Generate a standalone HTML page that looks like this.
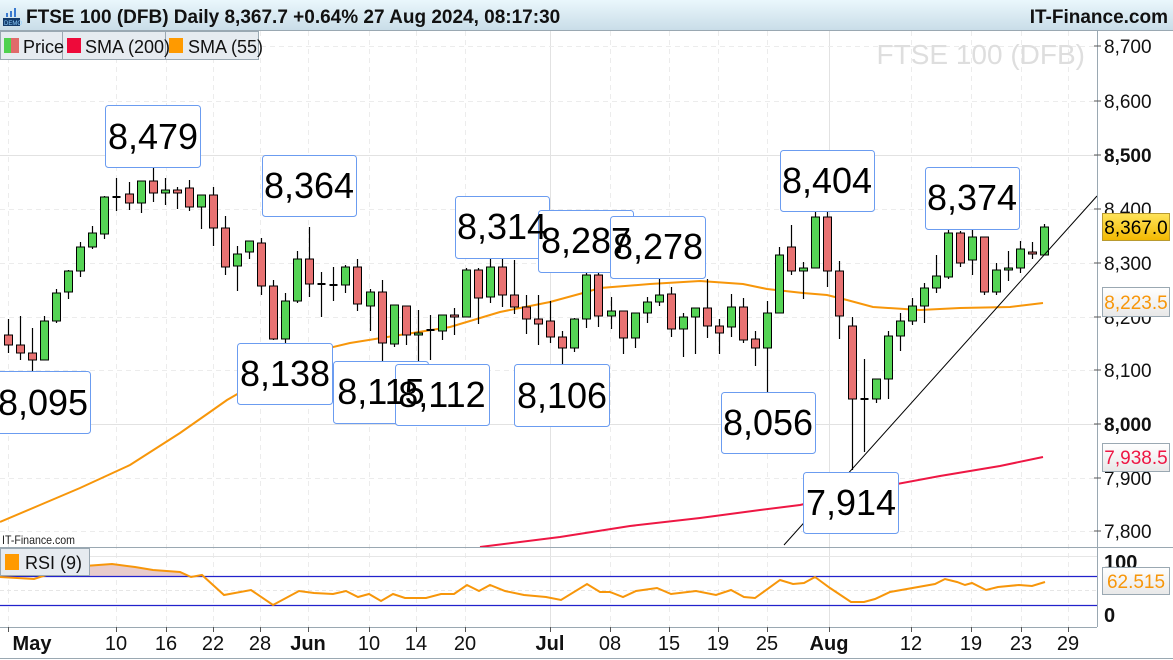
<!DOCTYPE html>
<html><head><meta charset="utf-8"><style>
body{margin:0;background:#fff;width:1173px;height:660px;overflow:hidden;font-family:"Liberation Sans",Arial,sans-serif}
svg{display:block}
</style></head><body>
<svg id="s" width="1173" height="660" xmlns="http://www.w3.org/2000/svg" font-family="Liberation Sans, Arial, sans-serif">
<defs><linearGradient id="hg" x1="0" y1="0" x2="0" y2="1"><stop offset="0" stop-color="#eaf7fc"/><stop offset="1" stop-color="#c9dde8"/></linearGradient>
<linearGradient id="yg" x1="0" y1="0" x2="0" y2="1"><stop offset="0" stop-color="#ffe45a"/><stop offset="1" stop-color="#f2b800"/></linearGradient>
<linearGradient id="wg" x1="0" y1="0" x2="0" y2="1"><stop offset="0" stop-color="#ffffff"/><stop offset="1" stop-color="#e8e8e8"/></linearGradient></defs>
<g id="grid"></g>
<text x="1085" y="64" text-anchor="end" font-size="28" fill="#dedede">FTSE 100 (DFB)</text>
<!-- SMA 55 -->
<polyline fill="none" stroke="#f7960a" stroke-width="2" points="0,522 40,505 80,488 130,465 180,433 210,412 227,400 253,385 290,373 333,347 350,343 400,335 450,327 500,312 550,302 583,293 600,288 650,284 700,281 743,284 767,289 803,293 827,295 847,300 873,307 920,310 960,308 1010,307 1043,303"/>
<!-- SMA 200 -->
<polyline fill="none" stroke="#ee1744" stroke-width="2" points="480,547 560,537 630,526 700,518 760,510 800,505 870,489 940,476 1000,466 1043,457"/>
<g id="candles"></g>
<line x1="784" y1="545" x2="1097" y2="196" stroke="#000" stroke-width="1"/>
<g font-size="36" text-anchor="middle" fill="#000" stroke="none">
<g fill="#fff" stroke="#6b9cf0" stroke-width="1">
<rect x="105.5" y="105.5" width="95" height="62" rx="3"/>
<rect x="262.5" y="155.5" width="94" height="61" rx="3"/>
<rect x="-5.5" y="371.5" width="96" height="62" rx="3"/>
<rect x="237.5" y="343.5" width="95" height="61" rx="3"/>
<rect x="333.5" y="361.5" width="95" height="62" rx="3"/>
<rect x="395.5" y="364.5" width="94" height="61" rx="3"/>
<rect x="514.5" y="364.5" width="95" height="62" rx="3"/>
<rect x="455.5" y="196.5" width="94" height="62" rx="3"/>
<rect x="538.5" y="210.5" width="95" height="62" rx="3"/>
<rect x="610.5" y="216.5" width="95" height="62" rx="3"/>
<rect x="780.5" y="150.5" width="94" height="61" rx="3"/>
<rect x="925.5" y="167.5" width="94" height="62" rx="3"/>
<rect x="721.5" y="392.5" width="94" height="61" rx="3"/>
<rect x="803.5" y="472.5" width="95" height="61" rx="3"/>
</g>
<text x="153" y="149">8,479</text>
<text x="309" y="198">8,364</text>
<text x="43" y="415">8,095</text>
<text x="285" y="386">8,138</text>
<text x="381" y="404">8,115</text>
<text x="442" y="407">8,112</text>
<text x="562" y="408">8,106</text>
<text x="502" y="239">8,314</text>
<text x="586" y="253">8,287</text>
<text x="658" y="259">8,278</text>
<text x="827" y="193">8,404</text>
<text x="972" y="210">8,374</text>
<text x="768" y="435">8,056</text>
<text x="851" y="515">7,914</text>
</g>
<!-- header -->
<rect x="0" y="0" width="1173" height="30" fill="url(#hg)"/>
<line x1="0" y1="30.5" x2="1173" y2="30.5" stroke="#9aa8b2"/>
<g transform="translate(3,10)"><rect x="0" y="8" width="17" height="8" fill="#123a6a"/><text x="1" y="15" font-size="6" fill="#8fd0ff">DEMO</text><rect x="3" y="3" width="2" height="4" fill="#3b7bd0"/><rect x="7" y="1" width="2" height="6" fill="#3b7bd0"/><rect x="11" y="-2" width="2" height="9" fill="#3b7bd0"/></g>
<text x="26" y="23" font-size="19" font-weight="bold" fill="#111">FTSE 100 (DFB) Daily 8,367.7 +0.64% 27 Aug 2024, 08:17:30</text>
<text x="1168" y="23" font-size="19" font-weight="bold" fill="#111" text-anchor="end">IT-Finance.com</text>
<!-- legend -->
<g font-size="18" fill="#111">
<rect x="0.5" y="31.5" width="258" height="28" fill="#e6ebf0" stroke="#9aa8b2"/>
<line x1="62.5" y1="31" x2="62.5" y2="59" stroke="#9aa8b2"/><line x1="165.5" y1="31" x2="165.5" y2="59" stroke="#9aa8b2"/>
<rect x="4" y="38" width="7" height="15" fill="#4fd14f"/><rect x="11" y="38" width="8" height="15" fill="#e06a6a"/>
<text x="23" y="53">Price</text>
<rect x="67" y="38" width="14" height="15" fill="#ee0a3a"/><text x="85" y="53">SMA (200)</text>
<rect x="169" y="38" width="14" height="15" fill="#ff9a00"/><text x="188" y="53">SMA (55)</text>
</g>
<!-- right axis -->
<line x1="1097.5" y1="31" x2="1097.5" y2="627" stroke="#9aa8b2"/>
<g font-size="19" fill="#111">
<text x="1104" y="53">8,700</text>
<text x="1104" y="108">8,600</text>
<text x="1104" y="162" font-weight="bold">8,500</text>
<text x="1104" y="216">8,400</text>
<text x="1104" y="270">8,300</text>
<text x="1104" y="324">8,200</text>
<text x="1104" y="377">8,100</text>
<text x="1104" y="431" font-weight="bold">8,000</text>
<text x="1104" y="485">7,900</text>
<text x="1104" y="538">7,800</text>
</g>
<g stroke="#555"><line x1="1094" y1="46" x2="1101" y2="46"/><line x1="1094" y1="101" x2="1101" y2="101"/><line x1="1094" y1="155" x2="1101" y2="155"/><line x1="1094" y1="209" x2="1101" y2="209"/><line x1="1094" y1="263" x2="1101" y2="263"/><line x1="1094" y1="317" x2="1101" y2="317"/><line x1="1094" y1="370" x2="1101" y2="370"/><line x1="1094" y1="424" x2="1101" y2="424"/><line x1="1094" y1="478" x2="1101" y2="478"/><line x1="1094" y1="531" x2="1101" y2="531"/></g>
<rect x="1102.5" y="213.5" width="67" height="27" fill="url(#yg)" stroke="#b89a30"/>
<text x="1136" y="234" font-size="19" text-anchor="middle" fill="#000">8,367.0</text>
<rect x="1102.5" y="287.5" width="67" height="29" fill="url(#wg)" stroke="#9aa8b2"/>
<text x="1136" y="309" font-size="19" text-anchor="middle" fill="#f7960a">8,223.5</text>
<rect x="1102.5" y="443.5" width="67" height="28" fill="url(#wg)" stroke="#9aa8b2"/>
<text x="1136" y="464" font-size="19" text-anchor="middle" fill="#ee1744">7,938.5</text>
<!-- divider -->
<text x="2" y="544" font-size="12" fill="#222" textLength="73" lengthAdjust="spacingAndGlyphs">IT-Finance.com</text>
<line x1="0" y1="547.5" x2="1173" y2="547.5" stroke="#9aa8b2"/>
<!-- RSI -->
<line x1="0" y1="556.5" x2="1097" y2="556.5" stroke="#e6e6e6"/>
<line x1="0" y1="590.5" x2="1097" y2="590.5" stroke="#e6e6e6" stroke-dasharray="4,3"/>
<polygon fill="#e8cccc" points="71,567 112,564 135,567 153,570 180,572 191,577 71,577"/>
<line x1="0" y1="576.5" x2="1097" y2="576.5" stroke="#2222cc" stroke-width="1.3"/>
<line x1="0" y1="605.5" x2="1097" y2="605.5" stroke="#2222cc" stroke-width="1.3"/>
<polyline fill="none" stroke="#f7960a" stroke-width="2" points="0,577 34,579 71,567 112,564 135,567 153,570 180,572 191,577 202,575 224,595 251,590 273,605 299,591 314,593 333,594 346,591 358,597 369,594 381,601 393,594 405,598 426,598 441,594 454,594 467,585 479,591 490,585 505,591 524,595 546,597 561,600 587,584 600,592 610,592 623,597 636,591 657,588 671,594 696,591 716,595 731,590 744,597 755,598 780,580 793,584 804,583 815,577 830,588 851,602 864,602 875,599 890,592 935,584 945,579 957,582 965,585 972,583 986,590 998,587 1019,585 1032,586 1045,582"/>
<rect x="0.5" y="548.5" width="89" height="27" fill="#e6ebf0" stroke="#9aa8b2"/>
<rect x="5" y="554" width="14" height="16" fill="#ff9a00"/>
<text x="25" y="569" font-size="18" fill="#111">RSI (9)</text>
<g font-size="20" font-weight="bold" fill="#111"><text x="1104" y="569">100</text><text x="1104" y="622">0</text></g>
<rect x="1102.5" y="567.5" width="67" height="27" fill="url(#wg)" stroke="#9aa8b2"/>
<text x="1136" y="588" font-size="19" text-anchor="middle" fill="#f7960a">62.515</text>
<line x1="0" y1="627.5" x2="1097" y2="627.5" stroke="#9aa8b2"/>
<line x1="0" y1="658.5" x2="1173" y2="658.5" stroke="#9aa8b2"/>
<g id="xax" font-size="20" fill="#111" text-anchor="middle"></g>
</svg>
<script>
var NS="http://www.w3.org/2000/svg";
function el(p,t,a){var e=document.createElementNS(NS,t);for(var k in a)e.setAttribute(k,a[k]);p.appendChild(e);return e;}
var g=document.getElementById("grid");
var vx=[8,116,166,213,260,308,369,416,465,550,610,669,718,767,829,911,971,1021,1068];
var solidX=[550,829];
vx.forEach(function(x){el(g,"line",{x1:x+.5,y1:31,x2:x+.5,y2:627,stroke:solidX.indexOf(x)>=0?"#e2e2e2":"#ececec","stroke-dasharray":solidX.indexOf(x)>=0?"":"5,4"});});
[46,101,155,209,263,317,370,424,478,531].forEach(function(y){var s=(y==155||y==424);el(g,"line",{x1:0,y1:y+.5,x2:1097,y2:y+.5,stroke:s?"#e2e2e2":"#ececec","stroke-dasharray":s?"":"5,4"});});
var d=[[335,345,319,353,0],[345,353,316,360,0],[353,360,328,372,0],[321,360,316,360,1],[293,321,289,323,1],[271,292,270,299,1],[247,271,242,277,1],[233,247,226,249,1],[197,234,196,239,1],[197,197,178,211,2],[194,203,182,210,0],[181,203,181,213,1],[181,193,167,202,0],[190,193,178,205,1],[190,193,187,209,0],[188,207,180,211,0],[195,207,195,229,1],[195,228,187,246,0],[228,267,216,275,0],[254,266,246,291,1],[241,252,241,259,1],[243,286,238,295,0],[286,339,280,340,0],[301,339,293,349,1],[259,301,251,303,1],[259,284,227,297,0],[284,284,272,317,2],[285,285,267,301,2],[267,285,265,293,1],[267,304,259,311,0],[292,306,289,331,1],[292,343,280,362,0],[305,344,305,347,1],
[306,335,306,345,0],[333,335,310,363,1],[330,330,315,360,2],[315,331,315,340,1],[315,317,308,335,0],[270,317,268,317,1],[270,298,268,324,0],[267,297,257,303,1],[267,295,255,307,0],[295,307,260,314,0],[307,319,295,334,0],[319,324,295,345,0],[321,337,301,343,0],[337,348,331,367,0],[319,348,318,352,1],[275,319,268,328,1],[275,316,269,327,0],[311,316,297,329,1],[311,338,311,354,0],[313,338,313,348,1],[302,313,297,323,1],[295,302,274,306,1],[294,329,287,337,0],[317,329,313,357,1],[308,317,308,354,1],[308,326,279,338,0],[326,333,319,354,0],[307,327,294,337,1],[307,340,298,343,0],[339,348,331,366,0],[313,348,301,393,1],[255,313,247,313,1],[247,271,225,275,0],
[268,271,262,299,1],[217,268,207,268,1],[217,271,206,287,0],[271,316,261,339,0],[326,399,317,470,0],[399,399,359,452,2],[379,399,379,403,1],[336,379,331,399,1],[321,336,313,351,1],[306,321,298,325,1],[288,306,283,323,1],[276,288,255,293,1],[233,277,225,279,1],[233,263,231,267,0],[237,260,222,275,1],[237,292,237,295,0],[270,292,263,295,1],[268,270,251,281,1],[249,268,241,273,1],[252,254,242,259,0],[227,255,224,255,1]];
var c=document.getElementById("candles");
d.forEach(function(a,i){var x=Math.round(8+12.05*i)+.5;
el(c,"line",{x1:x,y1:a[2],x2:x,y2:a[3],stroke:"#000","stroke-width":1.2});
if(a[4]==2){el(c,"line",{x1:x-4,y1:a[0],x2:x+4,y2:a[0],stroke:"#000","stroke-width":2});}
else{var h=Math.max(a[1]-a[0],2);el(c,"rect",{x:x-4,y:a[0],width:8,height:h,fill:a[4]?"#55d455":"#e87272",stroke:"#000","stroke-width":1});}
});
var xa=document.getElementById("xax");
var lab=[[32,"May",1],[116,"10"],[166,"16"],[213,"22"],[260,"28"],[308,"Jun",1],[369,"10"],[416,"14"],[465,"20"],[550,"Jul",1],[610,"08"],[669,"15"],[718,"19"],[767,"25"],[829,"Aug",1],[911,"12"],[971,"19"],[1021,"23"],[1068,"29"]];
lab.forEach(function(l){var t=el(xa,"text",{x:l[0],y:650});if(l[2])t.setAttribute("font-weight","bold");t.textContent=l[1];});
vx.forEach(function(x){el(xa,"line",{x1:x+.5,y1:627,x2:x+.5,y2:632,stroke:"#555"});});
</script>
</body></html>
